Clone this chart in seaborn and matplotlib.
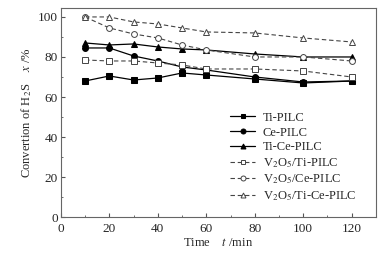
import matplotlib
matplotlib.use("Agg")
import matplotlib.pyplot as plt
import seaborn as sns
import pandas as pd
from matplotlib.ticker import MultipleLocator

# datos
tiempo = [10, 20, 30, 40, 50, 60, 80, 100, 120]
ti_pilc = [68, 70.5, 68.5, 69.5, 72, 71, 69, 67, 68]
ce_pilc = [84.5, 84.5, 80.5, 78, 75, 73.5, 70, 67.5, 68]
ti_ce_pilc = [87, 86, 86.5, 85, 84, 83.5, 81.5, 80, 80]
v_ti_pilc = [78.5, 78, 78, 77, 76, 74, 74, 73, 70]
v_ce_pilc = [100, 94.5, 91.5, 89.5, 86, 83.5, 80, 80, 78]
v_ti_ce_pilc = [100, 100, 97.5, 96.5, 94.5, 92.5, 92, 89.5, 87.5]

nombres = ['Ti-PILC', 'Ce-PILC', 'Ti-Ce-PILC',
           'V$_2$O$_5$/Ti-PILC', 'V$_2$O$_5$/Ce-PILC', 'V$_2$O$_5$/Ti-Ce-PILC']
series = [ti_pilc, ce_pilc, ti_ce_pilc, v_ti_pilc, v_ce_pilc, v_ti_ce_pilc]
marcadores = ['s', 'o', '^', 's', 'o', '^']

sns.set_style('ticks')
plt.rcParams['font.family'] = ['Liberation Serif', 'DejaVu Serif']
plt.rcParams['mathtext.fontset'] = 'stix'

fig = plt.figure(figsize=(3.9, 2.56), dpi=100)
ax = fig.add_axes([0.156, 0.152, 0.808, 0.817])

for i, (nombre, valores) in enumerate(zip(nombres, series)):
    df = pd.DataFrame({'t': tiempo, 'x': valores})
    if i < 3:
        sns.lineplot(data=df, x='t', y='x', ax=ax, color='black', lw=0.9,
                     marker=marcadores[i], markersize=4.2, mfc='black',
                     mec='black', label=nombre)
    else:
        sns.lineplot(data=df, x='t', y='x', ax=ax, color='#444444', lw=0.8,
                     linestyle=(0, (4, 2.5)), marker=marcadores[i],
                     markersize=4.2, mfc='white', mec='#444444',
                     mew=0.7, label=nombre)

ax.set_xlim(0, 130)
ax.set_ylim(0, 104.5)
ax.xaxis.set_major_locator(MultipleLocator(20))
ax.xaxis.set_minor_locator(MultipleLocator(10))
ax.yaxis.set_major_locator(MultipleLocator(20))
ax.yaxis.set_minor_locator(MultipleLocator(10))
ax.tick_params(which='both', direction='in', labelsize=9.5, color='#555555')
ax.tick_params(which='major', length=3)
ax.tick_params(axis='x', pad=4)
ax.tick_params(axis='y', pad=2)
ax.tick_params(which='minor', length=1.5)
for s in ax.spines.values():
    s.set_color('#666666')
    s.set_linewidth(0.8)

ax.set_xlabel('Time    $t$ /min', fontsize=9, labelpad=2)
ax.set_ylabel('Convertion of H$_2$S    $x$ /%', fontsize=9, labelpad=3)

ax.legend(loc='upper left', bbox_to_anchor=(0.51, 0.545), frameon=False,
          fontsize=9, handlelength=2.0, handletextpad=0.6,
          labelspacing=0.22, borderpad=0.2, markerscale=0.85)

fig.savefig('out.png', dpi=100)
